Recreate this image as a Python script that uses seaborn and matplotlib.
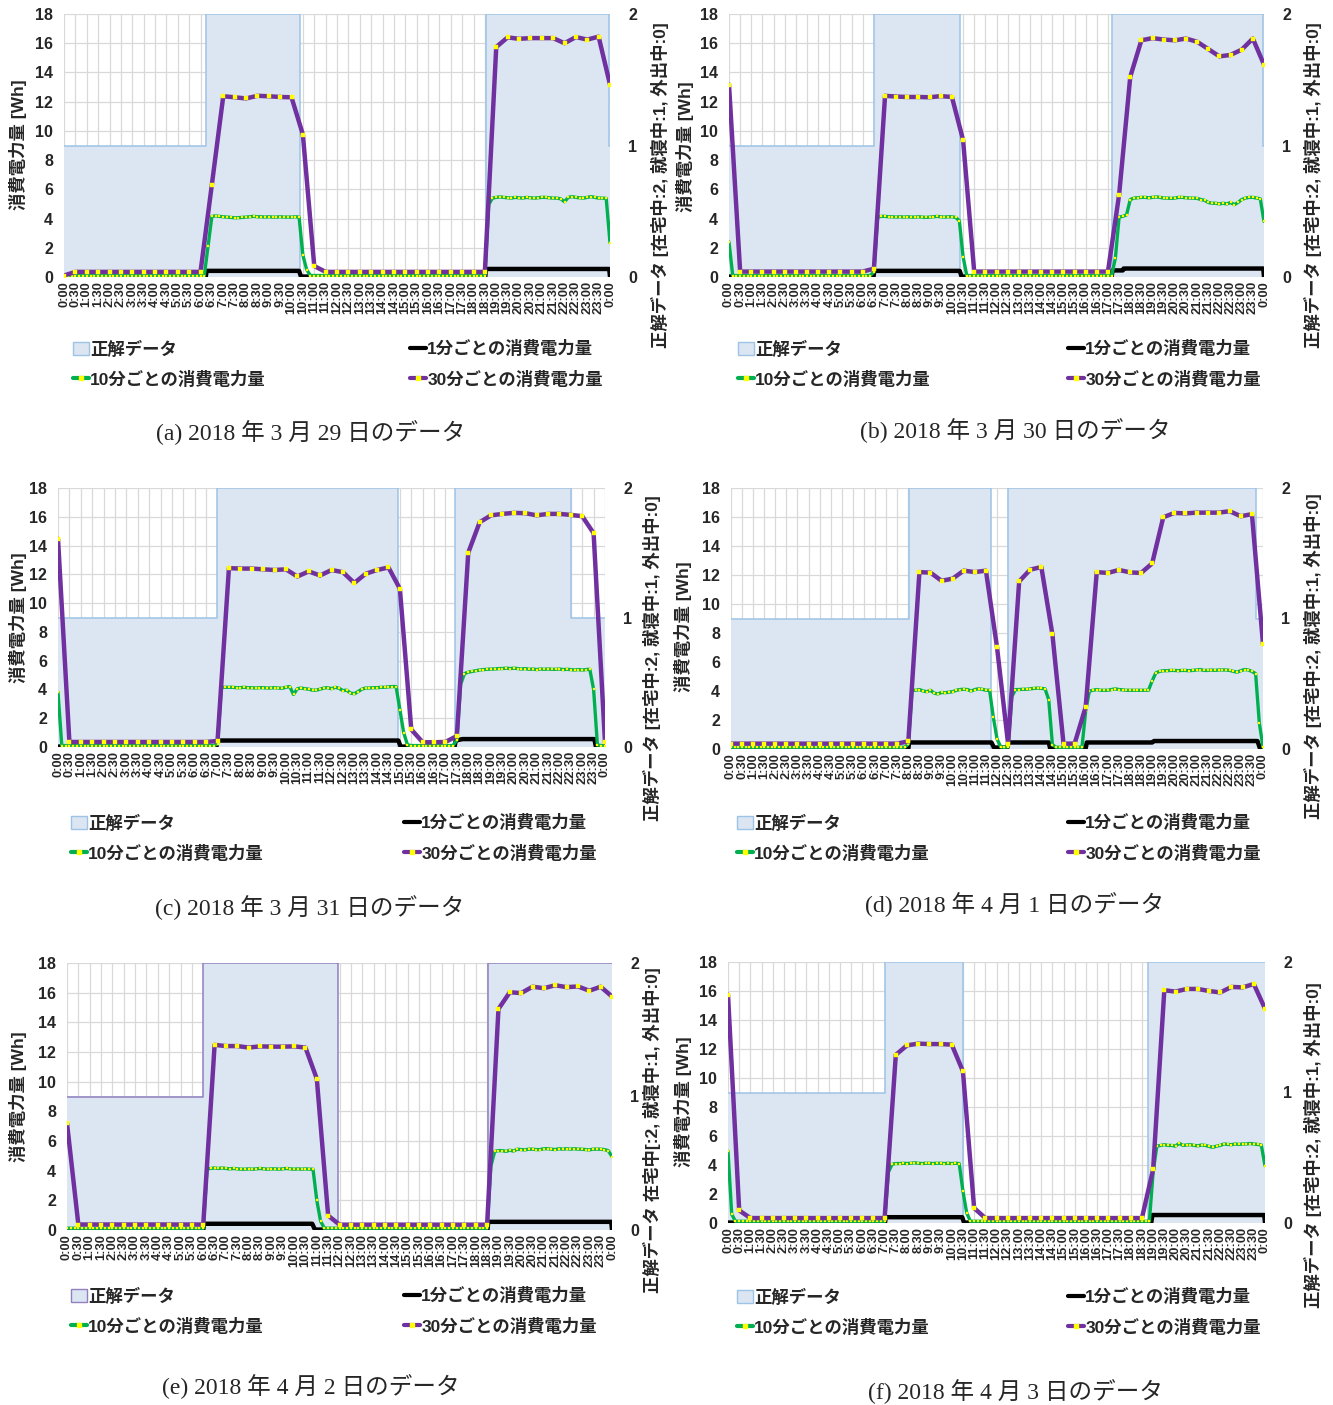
import numpy as np
import matplotlib.pyplot as plt
import seaborn as sns
from matplotlib.patches import Patch
from matplotlib.lines import Line2D

# ---- data -------------------------------------------------------------
time_labels = ["0:00", "0:30", "1:00", "1:30", "2:00", "2:30", "3:00", "3:30",
               "4:00", "4:30", "5:00", "5:30", "6:00", "6:30", "7:00", "7:30",
               "8:00", "8:30", "9:00", "9:30", "10:00", "10:30", "11:00", "11:30",
               "12:00", "12:30", "13:00", "13:30", "14:00", "14:30", "15:00", "15:30",
               "16:00", "16:30", "17:00", "17:30", "18:00", "18:30", "19:00", "19:30",
               "20:00", "20:30", "21:00", "21:30", "22:00", "22:30", "23:00", "23:30",
               "0:00"]

captions = ["(a) 2018 年 3 月 29 日のデータ", "(b) 2018 年 3 月 30 日のデータ",
            "(c) 2018 年 3 月 31 日のデータ", "(d) 2018 年 4 月 1 日のデータ",
            "(e) 2018 年 4 月 2 日のデータ", "(f) 2018 年 4 月 3 日のデータ"]

left_label = "消費電力量 [Wh]"
right_labels = ["正解データ [在宅中:2, 就寝中:1, 外出中:0]"] * 4 + \
               ["正解データ 在宅中[:2, 就寝中:1, 外出中:0]",
                "正解データ [在宅中:2, 就寝中:1, 外出中:0]"]

legend_labels = ["正解データ", "1分ごとの消費電力量", "10分ごとの消費電力量", "30分ごとの消費電力量"]

# ground truth (state change times, state 0/1/2)
gt_t_a = ["0:00", "6:15", "10:22", "18:32", "23:58", "24:00"]
gt_v_a = [1, 2, 0, 2, 1, 1]
gt_t_b = ["0:00", "6:30", "10:22", "17:12", "23:58", "24:00"]
gt_v_b = [1, 2, 0, 2, 1, 1]
gt_t_c = ["0:00", "6:58", "14:56", "17:24", "22:30", "24:00"]
gt_v_c = [1, 2, 0, 2, 1, 1]
gt_t_d = ["0:00", "8:02", "11:45", "12:30", "23:42", "24:00"]
gt_v_d = [1, 2, 0, 2, 1, 1]
gt_t_e = ["0:00", "6:00", "11:55", "18:32", "24:00"]
gt_v_e = [1, 2, 0, 2, 2]
gt_t_f = ["0:00", "7:02", "10:29", "18:47", "24:00"]
gt_v_f = [1, 2, 0, 2, 2]

# 1-minute consumption (level changes)
one_t_a = ["0:00", "6:14", "6:16", "10:20", "10:25", "18:31", "18:33", "23:58", "24:00"]
one_v_a = [0.03, 0.03, 0.42, 0.42, 0.03, 0.03, 0.55, 0.55, 0.03]
one_t_b = ["0:00", "6:29", "6:31", "10:21", "10:26", "17:10", "17:12", "17:40", "17:42", "23:58", "24:00"]
one_v_b = [0.03, 0.03, 0.42, 0.42, 0.03, 0.03, 0.45, 0.45, 0.58, 0.58, 0.03]
one_t_c = ["0:00", "6:57", "6:59", "14:56", "15:02", "17:24", "17:27", "17:45", "23:32", "23:36", "24:00"]
one_v_c = [0.03, 0.03, 0.45, 0.45, 0.03, 0.03, 0.45, 0.55, 0.55, 0.03, 0.03]
one_t_d = ["0:00", "8:00", "8:02", "11:45", "11:52", "12:28", "12:31", "14:20", "14:24",
           "16:00", "16:03", "19:00", "19:05", "23:45", "23:52", "24:00"]
one_v_d = [0.03, 0.03, 0.45, 0.45, 0.1, 0.1, 0.45, 0.45, 0.03,
           0.03, 0.45, 0.45, 0.55, 0.55, 0.03, 0.03]
one_t_e = ["0:00", "6:00", "6:02", "10:48", "10:55", "18:31", "18:33", "23:58", "24:00"]
one_v_e = [0.03, 0.03, 0.42, 0.42, 0.03, 0.03, 0.55, 0.55, 0.03]
one_t_f = ["0:00", "7:01", "7:03", "10:28", "10:33", "18:55", "18:58", "23:58", "24:00"]
one_v_f = [0.03, 0.03, 0.40, 0.40, 0.03, 0.03, 0.55, 0.55, 0.03]

# 10-minute consumption, 0:00 .. 24:00 (one row = 2 hours)
ten_a = [0.1, 0.1, 0.1, 0.1, 0.1, 0.1, 0.1, 0.1, 0.1, 0.1, 0.1, 0.1,
         0.1, 0.1, 0.1, 0.1, 0.1, 0.1, 0.1, 0.1, 0.1, 0.1, 0.1, 0.1,
         0.1, 0.1, 0.1, 0.1, 0.1, 0.1, 0.1, 0.1, 0.1, 0.1, 0.1, 0.1,
         0.1, 0.1, 2.1, 4.15, 4.18, 4.15, 4.12, 4.1, 4.08, 4.05, 4.06, 4.08,
         4.1, 4.12, 4.15, 4.12, 4.12, 4.1, 4.12, 4.1, 4.1, 4.12, 4.1, 4.1,
         4.1, 4.12, 4.1, 1.5, 0.5, 0.1, 0.1, 0.1, 0.1, 0.1, 0.1, 0.1,
         0.1, 0.1, 0.1, 0.1, 0.1, 0.1, 0.1, 0.1, 0.1, 0.1, 0.1, 0.1,
         0.1, 0.1, 0.1, 0.1, 0.1, 0.1, 0.1, 0.1, 0.1, 0.1, 0.1, 0.1,
         0.1, 0.1, 0.1, 0.1, 0.1, 0.1, 0.1, 0.1, 0.1, 0.1, 0.1, 0.1,
         0.1, 0.1, 0.1, 0.1, 4.95, 5.4, 5.45, 5.48, 5.45, 5.42, 5.4, 5.45,
         5.42, 5.4, 5.45, 5.42, 5.4, 5.42, 5.45, 5.45, 5.42, 5.4, 5.4, 5.35,
         5.15, 5.45, 5.5, 5.45, 5.42, 5.4, 5.45, 5.5, 5.45, 5.4, 5.4, 5.38,
         2.35]
ten_b = [2.4, 0.1, 0.1, 0.1, 0.1, 0.1, 0.1, 0.1, 0.1, 0.1, 0.1, 0.1,
         0.1, 0.1, 0.1, 0.1, 0.1, 0.1, 0.1, 0.1, 0.1, 0.1, 0.1, 0.1,
         0.1, 0.1, 0.1, 0.1, 0.1, 0.1, 0.1, 0.1, 0.1, 0.1, 0.1, 0.1,
         0.1, 0.1, 0.1, 0.35, 4.1, 4.15, 4.15, 4.12, 4.12, 4.1, 4.12, 4.1,
         4.12, 4.1, 4.1, 4.12, 4.1, 4.08, 4.1, 4.12, 4.15, 4.12, 4.1, 4.12,
         4.12, 4.08, 3.85, 1.4, 0.1, 0.1, 0.1, 0.1, 0.1, 0.1, 0.1, 0.1,
         0.1, 0.1, 0.1, 0.1, 0.1, 0.1, 0.1, 0.1, 0.1, 0.1, 0.1, 0.1,
         0.1, 0.1, 0.1, 0.1, 0.1, 0.1, 0.1, 0.1, 0.1, 0.1, 0.1, 0.1,
         0.1, 0.1, 0.1, 0.1, 0.1, 0.1, 0.1, 0.1, 1.3, 4.1, 4.15, 4.25,
         5.3, 5.4, 5.42, 5.45, 5.45, 5.42, 5.45, 5.48, 5.45, 5.4, 5.4, 5.38,
         5.4, 5.45, 5.45, 5.42, 5.4, 5.4, 5.38, 5.3, 5.25, 5.1, 5.05, 5.05,
         5.0, 5.05, 5.0, 5.1, 4.95, 5.1, 5.3, 5.4, 5.45, 5.45, 5.4, 5.35,
         3.8]
ten_c = [3.8, 0.1, 0.1, 0.1, 0.1, 0.1, 0.1, 0.1, 0.1, 0.1, 0.1, 0.1,
         0.1, 0.1, 0.1, 0.1, 0.1, 0.1, 0.1, 0.1, 0.1, 0.1, 0.1, 0.1,
         0.1, 0.1, 0.1, 0.1, 0.1, 0.1, 0.1, 0.1, 0.1, 0.1, 0.1, 0.1,
         0.1, 0.1, 0.1, 0.1, 0.1, 0.1, 0.22, 4.15, 4.15, 4.15, 4.15, 4.12,
         4.12, 4.15, 4.12, 4.12, 4.1, 4.12, 4.12, 4.1, 4.1, 4.12, 4.1, 4.08,
         4.15, 4.2, 3.65, 4.05, 4.1, 4.05, 4.02, 3.95, 3.95, 4.02, 4.1, 4.12,
         4.05, 4.15, 4.08, 3.92, 3.95, 3.75, 3.7, 3.85, 4.02, 4.1, 4.1, 4.12,
         4.12, 4.15, 4.15, 4.18, 4.2, 4.2, 2.6, 1.0, 0.15, 0.1, 0.1, 0.1,
         0.1, 0.1, 0.1, 0.1, 0.1, 0.1, 0.1, 0.1, 0.1, 0.5, 4.35, 5.1,
         5.2, 5.25, 5.3, 5.35, 5.38, 5.4, 5.42, 5.42, 5.45, 5.45, 5.48, 5.45,
         5.48, 5.45, 5.42, 5.45, 5.4, 5.42, 5.38, 5.42, 5.4, 5.42, 5.4, 5.4,
         5.42, 5.38, 5.4, 5.38, 5.35, 5.38, 5.35, 5.38, 5.4, 4.0, 0.15, 0.1,
         0.1]
ten_d = [0.12, 0.12, 0.12, 0.12, 0.12, 0.12, 0.12, 0.12, 0.12, 0.12, 0.12, 0.12,
         0.12, 0.12, 0.12, 0.12, 0.12, 0.12, 0.12, 0.12, 0.12, 0.12, 0.12, 0.12,
         0.12, 0.12, 0.12, 0.12, 0.12, 0.12, 0.12, 0.12, 0.12, 0.12, 0.12, 0.12,
         0.12, 0.12, 0.12, 0.12, 0.12, 0.12, 0.12, 0.12, 0.12, 0.12, 0.12, 0.12,
         0.35, 4.05, 4.05, 4.1, 4.0, 3.95, 4.05, 3.85, 3.8, 3.9, 3.88, 3.92,
         3.95, 4.05, 4.1, 4.12, 4.1, 4.0, 4.1, 4.15, 4.12, 4.05, 4.05, 2.2,
         0.7, 0.15, 0.12, 0.15, 3.6, 4.1, 4.1, 4.12, 4.12, 4.15, 4.18, 4.2,
         4.18, 4.15, 3.4, 0.3, 0.12, 0.12, 0.12, 0.12, 0.12, 0.12, 0.12, 0.12,
         2.6, 4.0, 4.05, 4.1, 4.05, 4.05, 4.05, 4.1, 4.15, 4.1, 4.08, 4.05,
         4.05, 4.05, 4.05, 4.05, 4.05, 4.05, 4.7, 5.25, 5.35, 5.4, 5.4, 5.42,
         5.42, 5.4, 5.42, 5.42, 5.4, 5.42, 5.45, 5.48, 5.42, 5.42, 5.45, 5.42,
         5.45, 5.45, 5.45, 5.42, 5.35, 5.3, 5.4, 5.48, 5.45, 5.35, 5.2, 1.8,
         0.12]
ten_e = [0.12, 0.12, 0.12, 0.12, 0.12, 0.12, 0.12, 0.12, 0.12, 0.12, 0.12, 0.12,
         0.12, 0.12, 0.12, 0.12, 0.12, 0.12, 0.12, 0.12, 0.12, 0.12, 0.12, 0.12,
         0.12, 0.12, 0.12, 0.12, 0.12, 0.12, 0.12, 0.12, 0.12, 0.12, 0.12, 0.12,
         0.12, 4.12, 4.15, 4.18, 4.15, 4.18, 4.15, 4.12, 4.15, 4.12, 4.1, 4.1,
         4.12, 4.1, 4.12, 4.15, 4.12, 4.1, 4.12, 4.12, 4.1, 4.12, 4.15, 4.12,
         4.1, 4.12, 4.1, 4.12, 4.1, 4.1, 2.0, 0.6, 0.12, 0.12, 0.12, 0.12,
         0.12, 0.12, 0.12, 0.12, 0.12, 0.12, 0.12, 0.12, 0.12, 0.12, 0.12, 0.12,
         0.12, 0.12, 0.12, 0.12, 0.12, 0.12, 0.12, 0.12, 0.12, 0.12, 0.12, 0.12,
         0.12, 0.12, 0.12, 0.12, 0.12, 0.12, 0.12, 0.12, 0.12, 0.12, 0.12, 0.12,
         0.12, 0.12, 0.12, 0.12, 4.3, 5.3, 5.35, 5.35, 5.3, 5.38, 5.32, 5.45,
         5.42, 5.4, 5.45, 5.45, 5.42, 5.42, 5.48, 5.48, 5.45, 5.42, 5.48, 5.45,
         5.48, 5.45, 5.48, 5.45, 5.45, 5.42, 5.4, 5.45, 5.45, 5.45, 5.42, 5.35,
         4.95]
ten_f = [4.95, 0.6, 0.12, 0.12, 0.12, 0.12, 0.12, 0.12, 0.12, 0.12, 0.12, 0.12,
         0.12, 0.12, 0.12, 0.12, 0.12, 0.12, 0.12, 0.12, 0.12, 0.12, 0.12, 0.12,
         0.12, 0.12, 0.12, 0.12, 0.12, 0.12, 0.12, 0.12, 0.12, 0.12, 0.12, 0.12,
         0.12, 0.12, 0.12, 0.12, 0.12, 0.12, 0.12, 3.5, 4.05, 4.1, 4.1, 4.12,
         4.1, 4.12, 4.15, 4.12, 4.1, 4.12, 4.12, 4.1, 4.12, 4.12, 4.1, 4.12,
         4.1, 4.12, 4.1, 2.2, 0.7, 0.12, 0.12, 0.12, 0.12, 0.12, 0.12, 0.12,
         0.12, 0.12, 0.12, 0.12, 0.12, 0.12, 0.12, 0.12, 0.12, 0.12, 0.12, 0.12,
         0.12, 0.12, 0.12, 0.12, 0.12, 0.12, 0.12, 0.12, 0.12, 0.12, 0.12, 0.12,
         0.12, 0.12, 0.12, 0.12, 0.12, 0.12, 0.12, 0.12, 0.12, 0.12, 0.12, 0.12,
         0.12, 0.12, 0.12, 0.12, 0.12, 0.12, 3.5, 5.3, 5.35, 5.4, 5.35, 5.35,
         5.3, 5.5, 5.35, 5.38, 5.4, 5.35, 5.32, 5.38, 5.35, 5.28, 5.22, 5.3,
         5.35, 5.45, 5.42, 5.4, 5.45, 5.42, 5.45, 5.45, 5.48, 5.45, 5.42, 5.38,
         3.95]

# 30-minute consumption, 0:00 .. 24:00
thirty_a = [0.1, 0.35, 0.35, 0.35, 0.35, 0.35, 0.35, 0.35, 0.35, 0.35, 0.35, 0.35,
            0.35, 6.33, 12.37, 12.3, 12.22, 12.4, 12.37, 12.32, 12.3, 9.75, 0.75, 0.35,
            0.35, 0.35, 0.35, 0.35, 0.35, 0.35, 0.35, 0.35, 0.35, 0.35, 0.35, 0.35,
            0.35, 0.35, 15.74, 16.4, 16.3, 16.35, 16.35, 16.35, 16.0, 16.42, 16.25, 16.45,
            13.17]
thirty_b = [13.17, 0.37, 0.37, 0.37, 0.37, 0.37, 0.37, 0.37, 0.37, 0.37, 0.37, 0.37,
            0.37, 0.57, 12.4, 12.35, 12.32, 12.32, 12.3, 12.38, 12.32, 9.38, 0.37, 0.37,
            0.37, 0.37, 0.37, 0.37, 0.37, 0.37, 0.37, 0.37, 0.37, 0.37, 0.37, 5.63,
            13.7, 16.2, 16.35, 16.25, 16.2, 16.32, 16.1, 15.6, 15.1, 15.2, 15.56, 16.32,
            14.53]
thirty_c = [14.47, 0.35, 0.35, 0.35, 0.35, 0.35, 0.35, 0.35, 0.35, 0.35, 0.35, 0.35,
            0.35, 0.35, 0.42, 12.43, 12.4, 12.4, 12.35, 12.3, 12.35, 11.85, 12.2, 11.92,
            12.3, 12.15, 11.4, 12.04, 12.3, 12.48, 11.0, 1.22, 0.33, 0.33, 0.35, 0.76,
            13.5, 15.62, 16.1, 16.2, 16.27, 16.25, 16.1, 16.2, 16.2, 16.13, 16.04, 14.86,
            0.32]
thirty_d = [0.37, 0.37, 0.37, 0.37, 0.37, 0.37, 0.37, 0.37, 0.37, 0.37, 0.37, 0.37,
            0.37, 0.37, 0.37, 0.37, 0.53, 12.2, 12.16, 11.6, 11.75, 12.3, 12.2, 12.3,
            7.03, 0.37, 11.56, 12.37, 12.55, 7.9, 0.37, 0.37, 2.9, 12.2, 12.14, 12.35,
            12.18, 12.14, 12.8, 15.98, 16.28, 16.25, 16.3, 16.3, 16.3, 16.4, 16.05, 16.2,
            7.24]
thirty_e = [7.2, 0.37, 0.37, 0.37, 0.37, 0.37, 0.37, 0.37, 0.37, 0.37, 0.37, 0.37,
            0.37, 12.48, 12.4, 12.4, 12.3, 12.38, 12.36, 12.36, 12.38, 12.3, 10.2, 0.97,
            0.36, 0.36, 0.36, 0.36, 0.36, 0.36, 0.36, 0.36, 0.36, 0.36, 0.36, 0.36,
            0.36, 0.36, 14.9, 16.03, 15.97, 16.4, 16.3, 16.5, 16.37, 16.42, 16.13, 16.4,
            15.74]
thirty_f = [15.75, 0.87, 0.34, 0.34, 0.34, 0.34, 0.34, 0.34, 0.34, 0.34, 0.34, 0.34,
            0.34, 0.34, 0.34, 11.6, 12.25, 12.37, 12.34, 12.34, 12.3, 10.46, 1.03, 0.34,
            0.34, 0.34, 0.34, 0.34, 0.34, 0.34, 0.34, 0.34, 0.34, 0.34, 0.34, 0.34,
            0.34, 0.34, 3.7, 16.05, 15.96, 16.14, 16.14, 16.0, 15.9, 16.28, 16.25, 16.48,
            14.78]

# ---- style ------------------------------------------------------------
sns.set_theme(style="white")
plt.rcParams["font.family"] = ["Liberation Sans", "Noto Sans CJK JP", "DejaVu Sans"]
plt.rcParams["font.weight"] = "bold"
plt.rcParams["axes.labelweight"] = "bold"

FILL = "#dce6f2"
EDGE = "#9dc3e6"
EDGE_E = "#9080c0"
GREEN = "#00b050"
PURPLE = "#7030a0"
YELLOW = "#ffff00"

W, H = 1333, 1405
fig = plt.figure(figsize=(W / 100, H / 100), dpi=100)


def to_min(t):
    h, m = t.split(":")
    return int(h) * 60 + int(m)


def fx(x):
    return x / W


def fy(y):
    return 1 - y / H


# layout in pixels: plot box, ylabel centres, legend, caption
panels = [
    dict(box=(64, 14, 610, 277), ll=(18, 145), rl=(660, 185), leg=(73, 410, 364), cap=(311, 433),
         gt_t=gt_t_a, gt_v=gt_v_a, one_t=one_t_a, one_v=one_v_a, ten=ten_a, thirty=thirty_a, edge=EDGE),
    dict(box=(729, 14, 1264, 277), ll=(685, 147), rl=(1313, 185), leg=(738, 1068, 364), cap=(1015, 431),
         gt_t=gt_t_b, gt_v=gt_v_b, one_t=one_t_b, one_v=one_v_b, ten=ten_b, thirty=thirty_b, edge=EDGE),
    dict(box=(58, 488, 605, 747), ll=(18, 618), rl=(652, 658), leg=(71, 404, 838), cap=(310, 908),
         gt_t=gt_t_c, gt_v=gt_v_c, one_t=one_t_c, one_v=one_v_c, ten=ten_c, thirty=thirty_c, edge=EDGE),
    dict(box=(731, 488, 1263, 749), ll=(683, 627), rl=(1313, 656), leg=(737, 1068, 838), cap=(1015, 905),
         gt_t=gt_t_d, gt_v=gt_v_d, one_t=one_t_d, one_v=one_v_d, ten=ten_d, thirty=thirty_d, edge=EDGE),
    dict(box=(67, 963, 612, 1230), ll=(18, 1097), rl=(652, 1130), leg=(71, 404, 1311), cap=(311, 1387),
         gt_t=gt_t_e, gt_v=gt_v_e, one_t=one_t_e, one_v=one_v_e, ten=ten_e, thirty=thirty_e, edge=EDGE_E),
    dict(box=(728, 962, 1265, 1223), ll=(683, 1102), rl=(1313, 1145), leg=(737, 1068, 1312), cap=(1015, 1392),
         gt_t=gt_t_f, gt_v=gt_v_f, one_t=one_t_f, one_v=one_v_f, ten=ten_f, thirty=thirty_f, edge=EDGE),
]

x10 = np.arange(0, 1441, 10)
x30 = np.arange(0, 1441, 30)

for i, p in enumerate(panels):
    l, t, r, b = p["box"]
    ax = fig.add_axes([fx(l), fy(b), (r - l) / W, (b - t) / H])
    ax2 = ax.twinx()
    ax.set_xlim(0, 1440)
    ax.set_ylim(0, 18)
    ax2.set_ylim(0, 2)

    ax.set_xticks(x30)
    ax.set_xticklabels(time_labels, rotation=90, fontsize=9.3, fontweight="bold")
    ax.set_yticks(range(0, 19, 2))
    ax.set_yticklabels([str(v) for v in range(0, 19, 2)], fontsize=11.5, fontweight="bold")
    ax.tick_params(axis="x", length=0, pad=3)
    ax.tick_params(axis="y", length=0, pad=8)
    ax2.set_yticks([0, 1, 2])
    ax2.set_yticklabels(["0", "1", "2"], fontsize=11.5, fontweight="bold")
    ax2.tick_params(axis="y", length=0, pad=13)
    ax.grid(True, color="#d9d9d9", lw=0.9)
    ax.set_axisbelow(True)
    for a in (ax, ax2):
        for s in a.spines.values():
            s.set_visible(False)

    # ground truth area, drawn in right-axis units
    gx = [to_min(v) for v in p["gt_t"]]
    ax.fill_between(gx, p["gt_v"], step="post", transform=ax2.transData,
                    color=FILL, lw=0, zorder=1)
    ax.step(gx, p["gt_v"], where="post", transform=ax2.transData,
            color=p["edge"], lw=1.1, zorder=1.2)

    sns.lineplot(x=[to_min(v) for v in p["one_t"]], y=p["one_v"], ax=ax,
                 color="black", linewidth=3.2, zorder=3, legend=False)
    sns.lineplot(x=x10, y=p["ten"], ax=ax, color=GREEN, linewidth=2.4,
                 marker="s", markersize=1.6, markerfacecolor=YELLOW,
                 markeredgecolor=YELLOW, markeredgewidth=0.2, zorder=4, legend=False)
    sns.lineplot(x=x30, y=p["thirty"], ax=ax, color=PURPLE, linewidth=3.2,
                 marker="s", markersize=3.0, markerfacecolor=YELLOW,
                 markeredgecolor=YELLOW, markeredgewidth=0.3, zorder=5, legend=False)

    ax.set_xlabel("")
    ax.set_ylabel(left_label, fontsize=12.5, fontweight="bold", va="center")
    ax.yaxis.set_label_coords((p["ll"][0] - l) / (r - l), (b - p["ll"][1]) / (b - t))
    ax2.set_ylabel(right_labels[i], fontsize=12.5, fontweight="bold", va="center", rotation=90)
    ax2.yaxis.set_label_coords((p["rl"][0] - l) / (r - l), (b - p["rl"][1]) / (b - t))

    # legend in two columns
    h_gt = Patch(facecolor=FILL, edgecolor=p["edge"], lw=1)
    h_one = Line2D([], [], color="black", lw=3)
    h_ten = Line2D([], [], color=GREEN, lw=3, marker="s", ms=3,
                   mfc=YELLOW, mec=YELLOW)
    h_thirty = Line2D([], [], color=PURPLE, lw=3, marker="s", ms=3,
                      mfc=YELLOW, mec=YELLOW)
    lx1, lx2, ly = p["leg"]
    common = dict(loc="center left", frameon=False, handlelength=0.9,
                  handleheight=0.8, handletextpad=0.1, labelspacing=0.75,
                  borderpad=0, borderaxespad=0,
                  prop=dict(size=12.5, weight="bold"))
    fig.legend([h_gt, h_ten], [legend_labels[0], legend_labels[2]],
               bbox_to_anchor=(fx(lx1), fy(ly)), **common)
    fig.legend([h_one, h_thirty], [legend_labels[1], legend_labels[3]],
               bbox_to_anchor=(fx(lx2), fy(ly)), **common)

    fig.text(fx(p["cap"][0]), fy(p["cap"][1]), captions[i], ha="center", va="center",
             fontsize=17, fontweight="normal",
             family=["Liberation Serif", "Noto Sans CJK JP"])

fig.savefig("out.png", dpi=100)
